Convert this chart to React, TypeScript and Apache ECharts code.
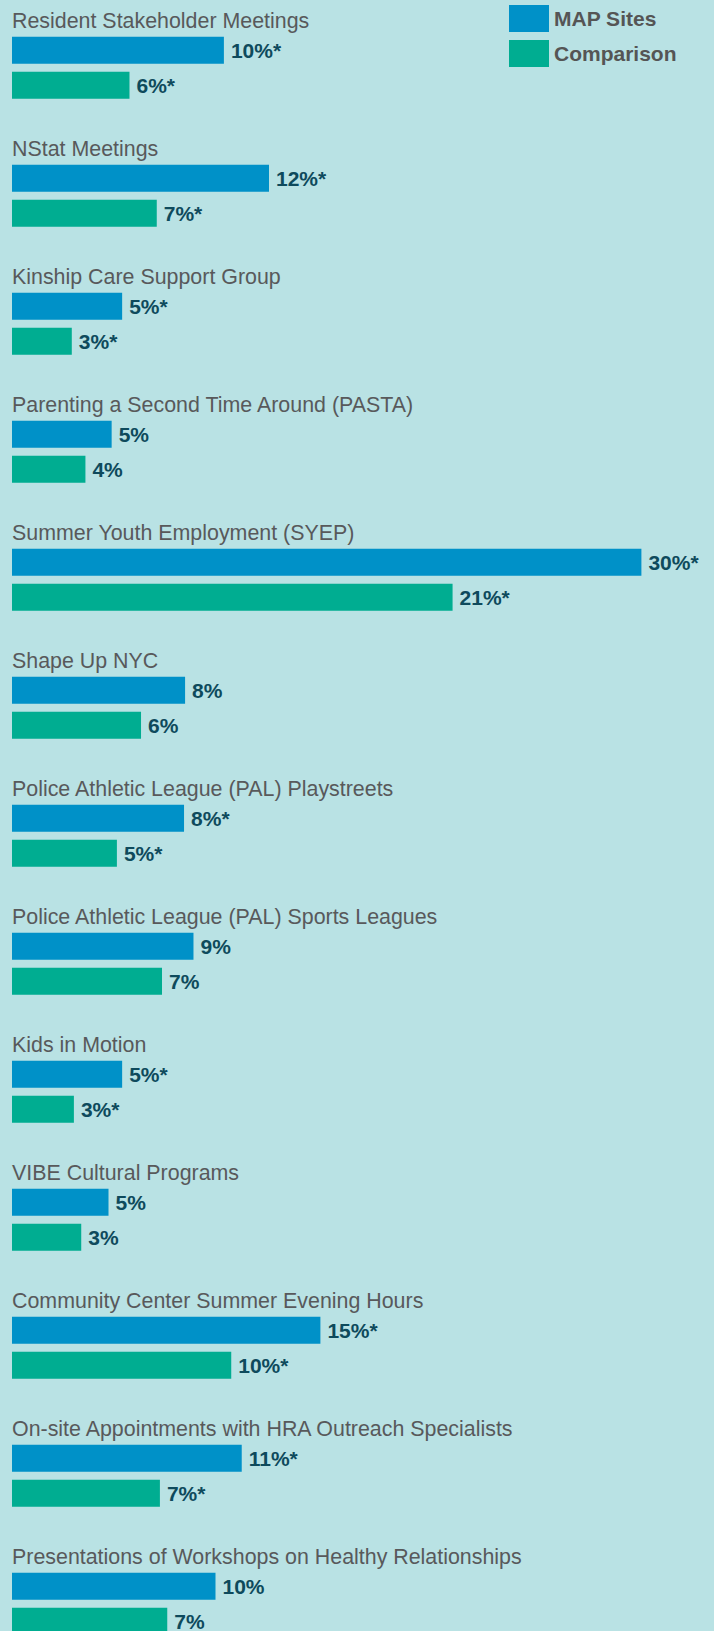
import React, { useEffect, useRef } from "react";
import * as echarts from "echarts";

const categories = [
  "Resident Stakeholder Meetings",
  "NStat Meetings",
  "Kinship Care Support Group",
  "Parenting a Second Time Around (PASTA)",
  "Summer Youth Employment (SYEP)",
  "Shape Up NYC",
  "Police Athletic League (PAL) Playstreets",
  "Police Athletic League (PAL) Sports Leagues",
  "Kids in Motion",
  "VIBE Cultural Programs",
  "Community Center Summer Evening Hours",
  "On-site Appointments with HRA Outreach Specialists",
  "Presentations of Workshops on Healthy Relationships",
];

const mapSites = [10.1, 12.25, 5.25, 4.75, 30.0, 8.25, 8.2, 8.65, 5.25, 4.6, 14.7, 10.95, 9.7];
const comparison = [5.6, 6.9, 2.85, 3.5, 21.0, 6.15, 5.0, 7.15, 2.95, 3.3, 10.45, 7.05, 7.4];

// significance markers (asterisk)
const mapSig = [true, true, true, false, true, false, true, false, true, false, true, true, false];
const compSig = [true, true, true, false, true, false, true, false, true, false, true, true, false];

const FONT = "'Liberation Sans', Arial, Helvetica, sans-serif";
const BG = "#b9e2e4";
const BLUE = "#0091c8";
const TEAL = "#00ad91";
const LABEL_COLOR = "#0e4a5c";
const TITLE_COLOR = "#58595b";

const W = 714;
const H = 1631;
const PERIOD = 128;

export default function App() {
  const ref = useRef<HTMLDivElement>(null);

  useEffect(() => {
    document.body.style.margin = "0";
    if (!ref.current) return;
    const chart = echarts.init(ref.current, undefined, { renderer: "svg" });

    const labelFor = (vals: number[], sig: boolean[]) => (p: any) =>
      `${Math.round(vals[p.dataIndex])}%${sig[p.dataIndex] ? "*" : ""}`;

    const makeSeries = (name: string, data: number[], sig: boolean[], color: string) => ({
      name,
      type: "bar",
      data,
      barWidth: 27,
      barGap: "29.6%",
      itemStyle: { color },
      label: {
        show: true,
        position: "right",
        distance: 7,
        formatter: labelFor(data, sig),
        fontFamily: FONT,
        fontWeight: "bold",
        fontSize: 21,
        color: LABEL_COLOR,
      },
      silent: true,
    });

    chart.setOption({
      animation: false,
      backgroundColor: BG,
      legend: {
        data: ["MAP Sites", "Comparison"],
        orient: "vertical",
        left: 509,
        top: 5,
        padding: 0,
        itemWidth: 40,
        itemHeight: 27,
        itemGap: 8,
        icon: "rect",
        selectedMode: false,
        textStyle: {
          fontFamily: FONT,
          fontWeight: "bold",
          fontSize: 21,
          color: "#555555",
        },
      },
      grid: {
        left: 12,
        top: 3.8,
        width: 32 * 20.98,
        height: categories.length * PERIOD,
        containLabel: false,
        outerBoundsMode: "none",
      },
      xAxis: {
        type: "value",
        min: 0,
        max: 32,
        show: false,
      },
      yAxis: {
        type: "category",
        data: categories,
        inverse: true,
        axisLine: { show: false },
        axisTick: { show: false },
        splitLine: { show: false },
        axisLabel: {
          inside: true,
          interval: 0,
          margin: 0,
          align: "left",
          verticalAlign: "bottom",
          lineHeight: 94.6,
          fontFamily: FONT,
          fontSize: 21.4,
          color: TITLE_COLOR,
        },
      },
      series: [
        makeSeries("MAP Sites", mapSites, mapSig, BLUE),
        makeSeries("Comparison", comparison, compSig, TEAL),
      ],
    });

    return () => chart.dispose();
  }, []);

  return (
    <div
      ref={ref}
      style={{ position: "absolute", left: 0, top: 0, width: W, height: H }}
    />
  );
}
